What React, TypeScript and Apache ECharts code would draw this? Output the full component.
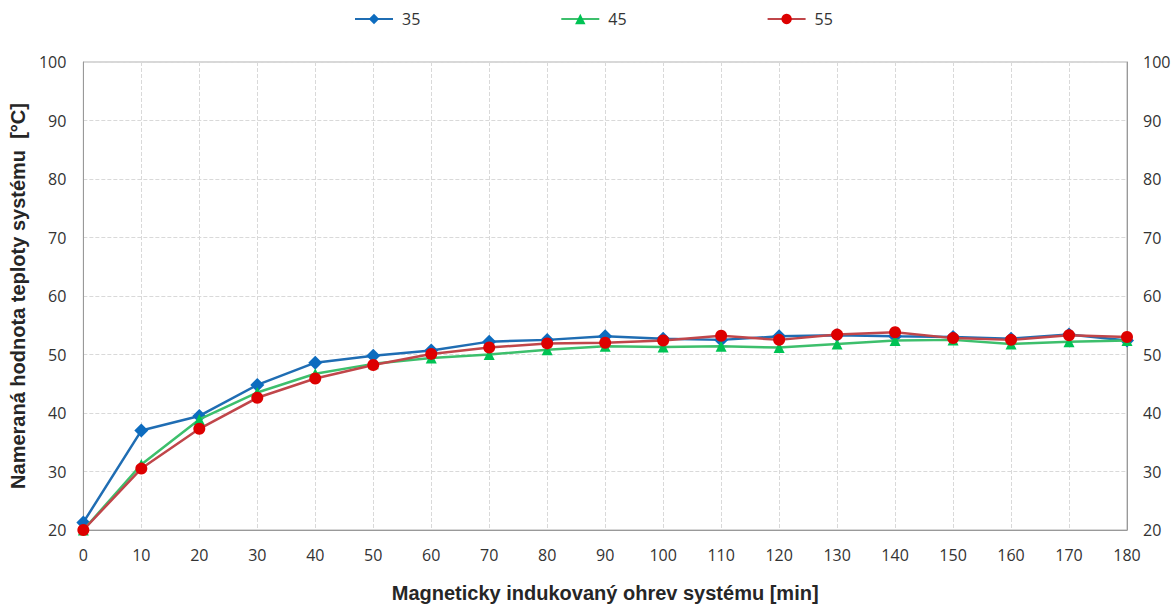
import React, { useEffect, useRef } from "react";
import * as echarts from "echarts";

const minutes = [0, 10, 20, 30, 40, 50, 60, 70, 80, 90, 100, 110, 120, 130, 140, 150, 160, 170, 180];
const series35 = [21.3, 37.0, 39.5, 44.8, 48.6, 49.8, 50.7, 52.2, 52.5, 53.1, 52.7, 52.5, 53.1, 53.3, 53.1, 53.0, 52.7, 53.4, 52.4];
const series45 = [20.0, 31.2, 38.9, 43.5, 46.7, 48.4, 49.4, 50.0, 50.8, 51.4, 51.3, 51.4, 51.2, 51.8, 52.4, 52.5, 51.8, 52.2, 52.4];
const series55 = [20.0, 30.5, 37.3, 42.6, 45.9, 48.2, 50.1, 51.2, 51.9, 52.0, 52.4, 53.2, 52.5, 53.4, 53.8, 52.8, 52.5, 53.3, 53.0];
const legendNames = ["35", "45", "55"];

const tickFont = "'Open Sans', 'Noto Sans', sans-serif";

export default function App() {
  const ref = useRef<HTMLDivElement>(null);
  useEffect(() => {
    if (!ref.current) return;
    const chart = echarts.init(ref.current, null, { renderer: "svg" });
    const mk = (arr: number[]) => minutes.map((m, i) => [m, arr[i]]);
    const axisLabel = { color: "#333", fontSize: 16, fontFamily: tickFont };
    const splitLine = { show: true, lineStyle: { color: "#d9d9d9", type: "dashed" as const, width: 1 } };
    chart.setOption({
      animation: false,
      backgroundColor: "#fff",
      legend: {
        top: 6,
        left: 349,
        itemWidth: 38,
        itemHeight: 13,
        itemGap: 140,
        textStyle: { fontSize: 16, fontFamily: tickFont, color: "#333", padding: [0, 0, 0, 4] },
        data: legendNames,
      },
      grid: { left: 83, right: 47, top: 62, bottom: 75, show: true, borderColor: "#b0b0b0", borderWidth: 1 },
      xAxis: {
        type: "value",
        min: 0,
        max: 180,
        interval: 10,
        name: "Magneticky indukovaný ohrev systému [min]",
        nameLocation: "middle",
        nameGap: 53,
        nameTextStyle: { fontSize: 20, fontWeight: "bold", color: "#262626", fontFamily: "'Liberation Sans Narrow', 'Liberation Sans', sans-serif" },
        axisLine: { show: true, lineStyle: { color: "#999", width: 1 } },
        axisTick: { show: false },
        axisLabel: { ...axisLabel, margin: 17 },
        splitLine,
      },
      yAxis: [
        {
          type: "value",
          min: 20,
          max: 100,
          interval: 10,
          name: "Nameraná hodnota teploty systému  [°C]",
          nameLocation: "middle",
          nameGap: 51,
          nameTextStyle: { fontSize: 20, fontWeight: "bold", color: "#262626", fontFamily: "'Liberation Sans', sans-serif" },
          axisLine: { show: true, lineStyle: { color: "#999", width: 1 } },
          axisTick: { show: false },
          axisLabel: { ...axisLabel, margin: 17 },
          splitLine,
        },
        {
          type: "value",
          min: 20,
          max: 100,
          interval: 10,
          position: "right",
          axisLine: { show: true, lineStyle: { color: "#999", width: 1 } },
          axisTick: { show: false },
          axisLabel: { ...axisLabel, margin: 16 },
          splitLine: { show: false },
        },
      ],
      series: [
        {
          name: legendNames[0],
          type: "line",
          data: mk(series35),
          symbol: "diamond",
          symbolSize: 14,
          lineStyle: { color: "#1f6db3", width: 2.5 },
          itemStyle: { color: "#0d6cbf" },
          z: 3,
        },
        {
          name: legendNames[1],
          type: "line",
          data: mk(series45),
          symbol: "triangle",
          symbolSize: 11,
          lineStyle: { color: "#3dbf6c", width: 2.5 },
          itemStyle: { color: "#00c354" },
          z: 4,
        },
        {
          name: legendNames[2],
          type: "line",
          data: mk(series55),
          symbol: "circle",
          symbolSize: 12,
          lineStyle: { color: "#c0464a", width: 2.5 },
          itemStyle: { color: "#dd0000" },
          z: 5,
        },
      ],
    });
    return () => chart.dispose();
  }, []);
  return <div ref={ref} style={{ position: "fixed", left: 0, top: 0, width: 1174, height: 608 }} />;
}
